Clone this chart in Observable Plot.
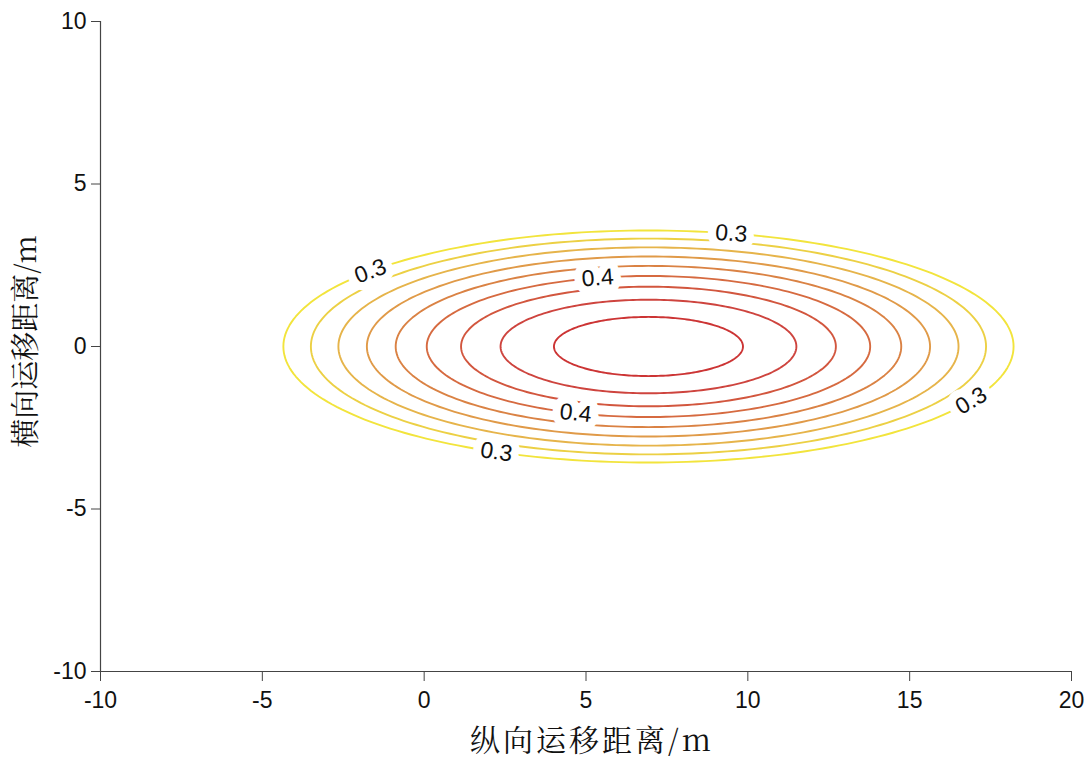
<!DOCTYPE html>
<html><head><meta charset="utf-8">
<script src="https://cdn.jsdelivr.net/npm/d3@7"></script>
<script src="https://cdn.jsdelivr.net/npm/@observablehq/plot@0.6"></script>
<style>body{margin:0;background:#fff;} #chart svg{display:block;}</style>
</head><body><div id="chart"></div>
<script>
// Contour levels (concentration), outer to inner
const levels = [0.30, 0.32, 0.34, 0.36, 0.38, 0.40, 0.42, 0.44, 0.46];
// Ellipse geometry (data units)
const centerX = 6.93;
const centerY = 0;
const semiX = [11.28, 10.43, 9.58, 8.70, 7.81, 6.85, 5.79, 4.57, 2.92];
const semiY = [3.57, 3.32, 3.05, 2.77, 2.48, 2.17, 1.84, 1.44, 0.91];
const levelColors = ["#f2e43c", "#ecd044", "#e6b44a", "#e09a48", "#da8244", "#d66a40", "#d2563e", "#ce443e", "#cc3434"];
// Contour labels
const labelText = ["0.3", "0.3", "0.4", "0.4", "0.3", "0.3"];
const labelLevel = [0.30, 0.30, 0.40, 0.40, 0.30, 0.30];
const labelX = [-1.66, 9.49, 5.36, 4.68, 2.23, 16.9];
const labelSide = [1, 1, 1, -1, -1, -1];
// Axes
const xTicks = [-10, -5, 0, 5, 10, 15, 20];
const yTicks = [-10, -5, 0, 5, 10];
const xDomain = [-10, 20];
const yDomain = [-10, 10];
const xTitle = "纵向运移距离/m";
const yTitle = "横向运移距离/m";

const W = 1088, H = 759, mL = 100, mR = 17, mT = 21, mB = 88;
const kx = (W - mL - mR) / (xDomain[1] - xDomain[0]);
const ky = (H - mT - mB) / (yDomain[1] - yDomain[0]);

const N = 240;
const curves = levels.map((lv, i) => d3.range(N + 1).map(k => {
  const t = 2 * Math.PI * k / N;
  return {level: lv, x: centerX + semiX[i] * Math.cos(t), y: centerY + semiY[i] * Math.sin(t)};
}));

const labels = labelText.map((txt, j) => {
  const i = levels.findIndex(l => Math.abs(l - labelLevel[j]) < 1e-9);
  const a = semiX[i], b = semiY[i];
  const c = (labelX[j] - centerX) / a;
  const s = labelSide[j] * Math.sqrt(Math.max(0, 1 - c * c));
  const y = centerY + b * s;
  const dpx = -a * s * kx;
  const dpy = -(b * c) * ky;
  let ang = Math.atan2(dpy, dpx) * 180 / Math.PI;
  if (ang > 90) ang -= 180;
  if (ang < -90) ang += 180;
  return {text: txt, x: labelX[j], y, rotate: ang};
});

const fmt = d => String(d);
const tickFont = "'Liberation Sans', Arial, Helvetica, sans-serif";
const cjkFont = "'Noto Serif CJK SC', 'Noto Sans CJK SC', serif";

const plot = Plot.plot({
  width: W, height: H,
  marginLeft: mL, marginRight: mR, marginTop: mT, marginBottom: mB,
  x: {domain: xDomain},
  y: {domain: yDomain},
  style: {fontFamily: tickFont, fontSize: "22px", background: "#fff", color: "#111"},
  marks: [
    ...curves.map((pts, i) => Plot.line(pts, {x: "x", y: "y", stroke: levelColors[i], strokeWidth: 1.9, curve: "linear"})),
    Plot.text(labels, {x: "x", y: "y", text: "text", rotate: "rotate", fontSize: 23, fill: "#111", stroke: "#fff", strokeWidth: 16, fontFamily: tickFont}),
    Plot.ruleX([xDomain[0]], {stroke: "#444", strokeWidth: 1.2}),
    Plot.ruleY([yDomain[0]], {stroke: "#444", strokeWidth: 1.2}),
    Plot.axisX({ticks: xTicks, tickSize: 10, tickPadding: 10, tickFormat: fmt, label: null, fontSize: 23, stroke: "#444", fill: "#111"}),
    Plot.axisY({ticks: yTicks, tickSize: 9, tickPadding: 5, tickFormat: fmt, label: null, fontSize: 23, stroke: "#444", fill: "#111"}),
    Plot.text([xTitle], {frameAnchor: "bottom", lineAnchor: "middle", textAnchor: "middle", dx: 6, dy: 70, fontSize: 30, fontFamily: cjkFont, fill: "#111", style: "letter-spacing:3px"}),
    Plot.text([yTitle], {frameAnchor: "left", lineAnchor: "middle", textAnchor: "middle", dx: -74, dy: -5, rotate: -90, fontSize: 29, fontFamily: cjkFont, fill: "#111"})
  ]
});
const t = plot.querySelectorAll("text");
t.forEach(el => { if (el.textContent === xTitle) el.setAttribute("letter-spacing", "3"); });
document.getElementById("chart").appendChild(plot);
</script>
</body></html>
